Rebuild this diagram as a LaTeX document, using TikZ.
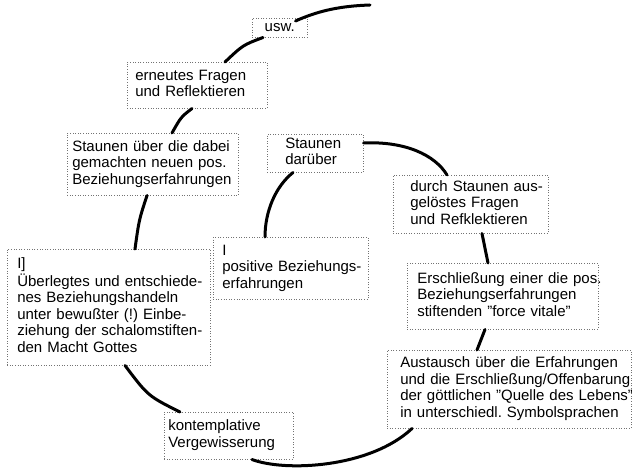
\documentclass[tikz,border=0pt]{standalone}
\usepackage{fontspec}
\setmainfont{Liberation Sans}
\newcommand\boxlines[1]{\begin{tabular}{@{}l@{}}#1\end{tabular}}
\newcommand\sq{\symbol{34}}
\begin{document}
\frenchspacing
\begin{tikzpicture}[x=1pt,y=-1pt,
  box/.style={draw=black!55, dash pattern=on 0.8pt off 1.8pt, line width=0.5pt,
    anchor=north west, align=left, inner ysep=0pt,
    font=\fontsize{15}{16.5}\selectfont},
  link/.style={line width=3pt, line cap=round, black}]
\path[use as bounding box] (0,0) rectangle (632,470);
\coordinate (top) at (370,5);
\node[box, text width=55pt, inner xsep=0pt, align=center, minimum height=19pt] (usw) at (252,18) {usw.};
\node[box, text width=124pt, inner xsep=8pt, minimum height=46pt] (ern) at (127,62) {\boxlines{erneutes Fragen\\und Reflektieren}};
\node[box, text width=161pt, inner xsep=5pt, minimum height=62pt] (stu) at (67,133) {\boxlines{Staunen über die dabei\\gemachten neuen pos.\\Beziehungserfahrungen}};
\node[box, text width=60pt, inner xsep=18pt, minimum height=38pt] (std) at (267,134) {\boxlines{Staunen\\darüber}};
\node[box, text width=121pt, inner xsep=17pt, minimum height=58pt] (dst) at (393,175) {\boxlines{durch Staunen aus-\\gelöstes Fragen\\und Refklektieren}};
\node[box, text width=137pt, inner xsep=9pt, minimum height=62pt] (pos) at (213,237) {\boxlines{I\\positive Beziehungs-\\erfahrungen}};
\node[box, text width=183pt, inner xsep=10pt, minimum height=116pt] (ueb) at (7,249) {\boxlines{I]\\Überlegtes und entschiede-\\nes Beziehungshandeln\\unter bewußter (!) Einbe-\\ziehung der schalomstiften-\\den Macht Gottes}};
\node[box, text width=171pt, inner xsep=10pt, minimum height=66pt] (ers) at (407,263) {\boxlines{Erschließung einer die pos.\\Beziehungserfahrungen\\stiftenden \sq force vitale\sq}};
\node[box, text width=218pt, inner xsep=13pt, minimum height=78pt] (aus) at (387,350) {\boxlines{Austausch über die Erfahrungen\\und die Erschließung/Offenbarung\\der göttlichen \sq Quelle des Lebens\sq\\in unterschiedl. Symbolsprachen}};
\node[box, text width=121pt, inner xsep=4pt, minimum height=47pt] (kon) at (164,412) {\boxlines{kontemplative\\Vergewisserung}};

\draw[link] ([xshift=-12pt,yshift=-3pt]usw.north east) .. controls (320,10) and (342,6) .. (top);
\draw[link] ([xshift=11pt]usw.south west) .. controls (243,45) .. ([xshift=98pt]ern.north west);
\draw[link] ([xshift=65pt]ern.south west) .. controls (181,117) .. ([xshift=105pt]stu.north west);
\draw[link] ([xshift=80pt]stu.south west) .. controls (139,220) .. ([xshift=128pt]ueb.north west);
\draw[link] ([xshift=118pt]ueb.south west) .. controls (148,396) .. ([xshift=16pt]kon.north west);
\draw[link] ([xshift=88pt]kon.south west) .. controls (285,472) and (370,468) .. ([xshift=25pt]aus.south west);
\draw[link] ([xshift=90pt]aus.north west) -- ([xshift=78pt]ers.south west);
\draw[link] ([xshift=81pt]ers.north west) -- ([xshift=89pt]dst.south west);
\draw[link] ([xshift=54pt]dst.north west) .. controls (435,155) and (405,141) .. ([yshift=-9pt]std.north east);
\draw[link] ([xshift=26pt]std.south west) .. controls (275,187) and (265,212) .. ([xshift=52pt]pos.north west);
\end{tikzpicture}
\end{document}
